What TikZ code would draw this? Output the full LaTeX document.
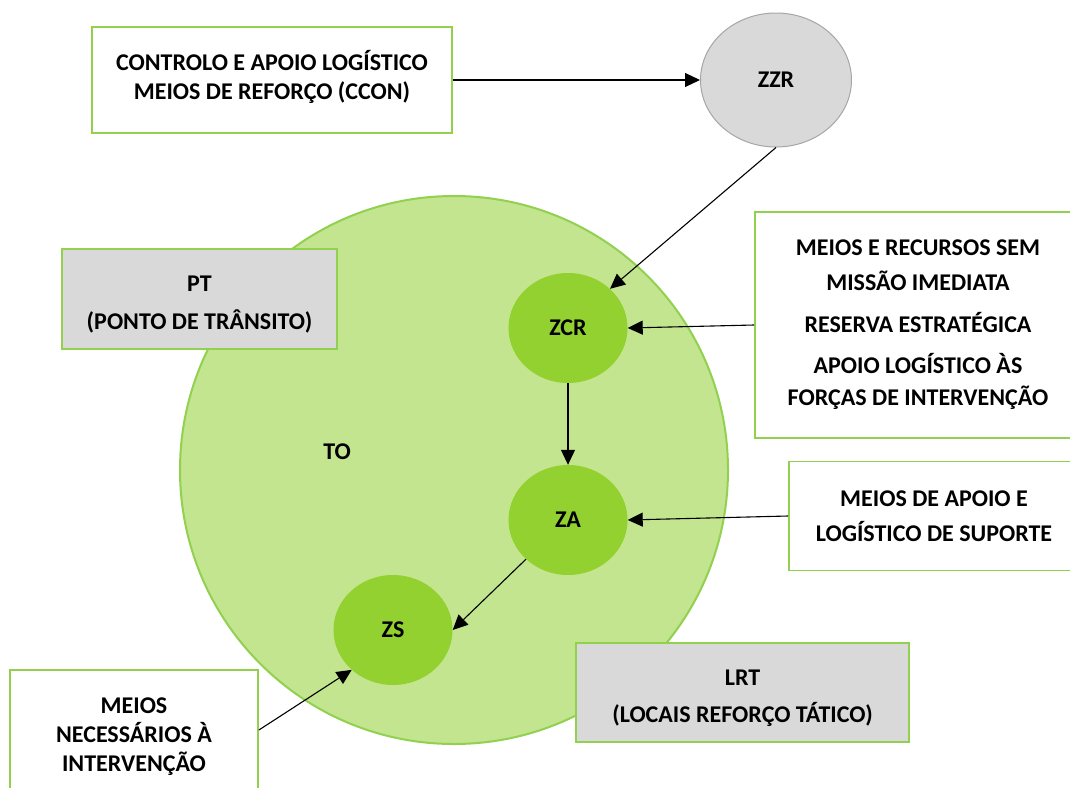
\documentclass[tikz,border=0pt]{standalone}
\usepackage{fontspec}
\setmainfont{Carlito}
\usetikzlibrary{arrows.meta,shapes.geometric}
\definecolor{gborder}{HTML}{92D050}
\definecolor{bigfill}{HTML}{C3E58F}
\definecolor{smallfill}{HTML}{92D12F}
\definecolor{grayfill}{HTML}{D9D9D9}
\definecolor{grayborder}{HTML}{A6A6A6}
\begin{document}
\begin{tikzpicture}[x=1pt,y=-1pt,
  lbl/.style={font=\fontsize{24}{30}\selectfont\bfseries, align=center, text=black},
  wbox/.style={lbl, draw=gborder, line width=1.8pt, fill=white, inner sep=0pt},
  gbox/.style={wbox, fill=grayfill},
  zone/.style={ellipse, lbl, fill=smallfill, draw=none, minimum width=119pt, minimum height=110pt, inner sep=0pt},
  conn/.style={draw=black, line width=1.1pt, -{Triangle[length=15pt,width=14pt]}}
]
\useasboundingbox (0,0) rectangle (1070,787);
\fill[white] (0,0) rectangle (1070,787);
\node[circle, fill=bigfill, draw=gborder, line width=2pt, minimum size=548pt, inner sep=0pt] (to) at (454,470) {};
\node[lbl] (tolbl) at (337,452) {TO};
\node[gbox, minimum width=275pt, minimum height=100pt] (pt) at (199.5,299) {};
\node[lbl, font=\fontsize{24}{30}\selectfont\bfseries] (pttext) at ([yshift=-6pt]pt.center) {PT\\[8pt](PONTO DE TRÂNSITO)};
\node[gbox, minimum width=333pt, minimum height=99pt] (lrt) at (742.5,692.5) {};
\node[lbl] (lrttext) at ([yshift=-6pt]lrt.center) {LRT\\[7pt](LOCAIS REFORÇO TÁTICO)};
\node[wbox, minimum width=360pt, minimum height=106pt] (ccon) at (272,80) {};
\node[lbl, font=\fontsize{24}{28.5}\selectfont\bfseries] (ccontext) at ([yshift=3pt]ccon.center) {CONTROLO E APOIO LOGÍSTICO\\MEIOS DE REFORÇO (CCON)};
\node[ellipse, fill=grayfill, draw=grayborder, line width=1pt, lbl, minimum width=151pt, minimum height=134pt, inner sep=0pt] (zzr) at (776,80) {ZZR};
\node[zone] (zcr) at (568,328) {ZCR};
\node[zone] (za) at (568,520) {ZA};
\node[zone] (zs) at (393,630) {ZS};
\node[wbox, minimum width=326pt, minimum height=226pt] (r1) at (918,325) {MEIOS E RECURSOS SEM\\[5pt]MISSÃO IMEDIATA\\[12pt]RESERVA ESTRATÉGICA\\[11pt]APOIO LOGÍSTICO ÀS\\[2pt]FORÇAS DE INTERVENÇÃO};
\node[wbox, minimum width=290pt, minimum height=109pt] (r2) at (934,516) {MEIOS DE APOIO E\\[5pt]LOGÍSTICO DE SUPORTE};
\node[wbox, minimum width=248pt, minimum height=120pt] (bl) at (134,730) {};
\node[lbl, font=\fontsize{24}{29}\selectfont\bfseries] (bltext) at ([yshift=-7pt]bl.center) {MEIOS\\NECESSÁRIOS À\\INTERVENÇÃO};
\draw[conn] (ccon.east) -- (zzr.west);
\draw[conn] (zzr.south) -- (zcr.43);
\draw[conn] (r1.west) -- (zcr.east);
\draw[conn] (zcr.south) -- (za.north);
\draw[conn] (r2.west) -- (za.east);
\draw[conn] (za.223) -- (zs.east);
\draw[conn] (bl.east) -- (zs.224);
\end{tikzpicture}
\end{document}
